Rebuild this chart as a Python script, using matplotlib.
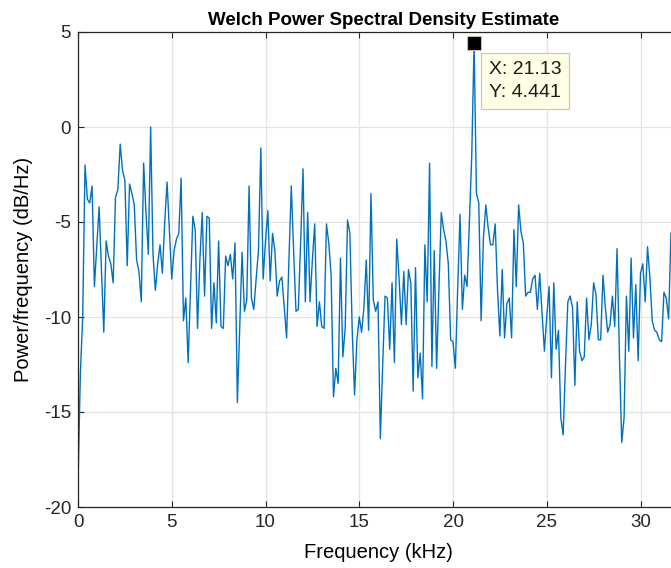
import matplotlib
matplotlib.use('Agg')
import matplotlib.pyplot as plt
import numpy as np

# Welch PSD estimate, dB/Hz, bins every 0.125 kHz (only the visible part, 0 .. 31.625 kHz)
freq_step_khz = 0.125
psd_db = [
    -18.8, -13.0, -10.0, -2.0, -3.8, -4.0, -3.1, -8.4, -6.3, -4.2,
    -7.5, -10.8, -6.0, -6.8, -7.2, -8.2, -3.7, -3.3, -0.9, -2.3,
    -2.8, -7.3, -3.0, -3.5, -4.1, -7.0, -7.6, -9.2, -1.9, -4.5,
    -6.7, 0.0, -6.7, -8.6, -7.2, -6.2, -7.7, -5.0, -2.9, -5.5,
    -8.0, -6.5, -5.9, -5.6, -2.7, -10.2, -9.0, -12.4, -8.5, -4.7,
    -5.4, -10.6, -7.0, -4.5, -8.9, -4.7, -4.8, -10.6, -8.2, -10.3,
    -6.0, -10.5, -10.6, -6.8, -7.3, -6.7, -8.0, -6.1, -14.5, -10.5,
    -6.6, -9.7, -9.1, -3.1, -9.0, -9.6, -8.0, -6.5, -1.1, -8.0,
    -6.0, -4.4, -8.1, -5.6, -6.5, -8.9, -8.1, -7.9, -9.5, -11.1,
    -7.0, -3.1, -6.5, -9.7, -9.6, -6.0, -2.2, -9.2, -4.5, -9.2,
    -7.0, -5.1, -10.5, -9.2, -10.5, -10.6, -5.1, -6.1, -7.8, -14.2,
    -12.7, -13.5, -6.9, -12.1, -10.6, -4.9, -5.6, -10.7, -14.1, -11.2,
    -10.0, -10.8, -9.5, -7.0, -10.7, -3.5, -9.1, -9.7, -9.2, -16.4,
    -12.5, -8.9, -9.0, -11.7, -8.2, -12.4, -5.9, -8.0, -10.4, -7.6,
    -10.4, -7.5, -8.2, -13.9, -7.4, -13.2, -11.9, -14.3, -6.2, -9.2,
    -1.9, -12.6, -6.5, -12.7, -8.5, -4.5, -5.4, -6.0, -7.2, -11.2,
    -11.3, -12.7, -8.5, -4.6, -9.6, -7.8, -8.4, -5.0, -1.5, 4.441,
    -3.5, -4.0, -10.2, -5.8, -4.1, -5.3, -6.2, -6.2, -5.1, -8.6,
    -11.0, -7.5, -11.1, -9.3, -9.0, -11.1, -5.4, -8.4, -4.1, -5.5,
    -6.1, -8.9, -8.7, -8.7, -8.0, -7.8, -9.6, -7.7, -9.8, -11.8,
    -10.0, -8.4, -13.2, -8.2, -11.7, -10.7, -15.3, -16.2, -12.5, -9.2,
    -8.9, -9.5, -13.6, -9.2, -11.8, -12.3, -12.1, -9.0, -11.2, -10.4,
    -8.2, -8.8, -11.2, -11.2, -7.8, -9.5, -10.8, -10.4, -8.9, -10.5,
    -6.4, -12.0, -16.6, -15.3, -8.9, -11.8, -6.9, -11.1, -8.3, -12.3,
    -7.7, -7.2, -9.2, -6.3, -7.9, -10.2, -10.7, -10.8, -11.2, -11.3,
    -8.7, -9.0, -10.1, -5.6,
]
freq_khz = np.arange(len(psd_db)) * freq_step_khz

tip_x = 21.13
tip_y = 4.441
x_ticks = [0, 5, 10, 15, 20, 25, 30]
y_ticks = [-20, -15, -10, -5, 0, 5]

plt.rcParams['font.family'] = ['Liberation Sans', 'DejaVu Sans']
plt.rcParams['axes.unicode_minus'] = False

fig = plt.figure(figsize=(6.71, 5.68), dpi=100)
# axes runs a little past the right edge of the picture (cropped screenshot)
ax = fig.add_axes([78 / 671, 61 / 568, 600 / 671, 475 / 568])

ax.plot(freq_khz, psd_db, color='#0072BD', lw=1.0)

peak = int(np.argmax(psd_db))
ax.plot(freq_khz[peak], psd_db[peak], marker='s', ms=10, mfc='black',
        mec='#c8c0a0', mew=0.8, ls='none', zorder=5)
ax.annotate('X: %.2f\nY: %.3f' % (tip_x, tip_y),
            xy=(freq_khz[peak], psd_db[peak]), xycoords='data',
            xytext=(15, -18), textcoords='offset pixels',
            ha='left', va='top', fontsize=14, linespacing=1.5,
            color='#1a1a1a', annotation_clip=False,
            bbox=dict(boxstyle='square,pad=0.4', fc='#FFFFE6',
                      ec='#c6c6b0', lw=0.8))

ax.set_xlim(0, 32)
ax.set_ylim(-20, 5)
ax.set_xticks(x_ticks)
ax.set_yticks(y_ticks)
ax.grid(True, color='#e3e3e3', lw=0.9)
ax.set_axisbelow(True)
for s in ax.spines.values():
    s.set_color('#262626')
    s.set_linewidth(0.9)
ax.tick_params(direction='in', length=4, width=0.8, colors='#262626',
               labelsize=13.5, top=True, right=True, pad=5)

ax.set_title('Welch Power Spectral Density Estimate', fontsize=13.5,
             fontweight='bold', pad=5, x=0.51)
ax.set_xlabel('Frequency (kHz)', fontsize=14.5, labelpad=9)
ax.set_ylabel('Power/frequency (dB/Hz)', fontsize=14.5, labelpad=8)

fig.savefig('out.png', dpi=100)
